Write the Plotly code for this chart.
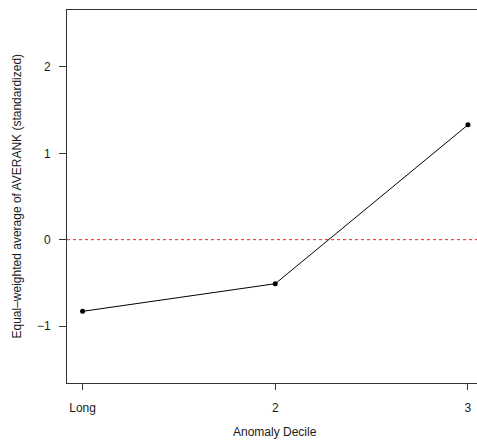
import plotly.graph_objects as go

categories = ["Long", "2", "3"]
x_pos = [1, 2, 3]
values = [-0.83, -0.51, 1.33]
y_ticks = [-1, 0, 1, 2]
y_tick_labels = ["\u22121", "0", "1", "2"]

FONT = "Liberation Sans, Arial, Helvetica, sans-serif"

fig = go.Figure()
fig.add_trace(go.Scatter(
    x=x_pos, y=values, mode="lines+markers",
    line=dict(color="black", width=1),
    marker=dict(color="black", size=5),
    showlegend=False, cliponaxis=False,
))

fig.add_hline(y=0, line=dict(color="#ff2020", width=1, dash="3px,3px"))

fig.update_layout(
    width=477, height=441,
    margin=dict(l=67, r=0, t=10, b=58),
    plot_bgcolor="white", paper_bgcolor="white",
    font=dict(family=FONT, size=12, color="#1a1a1a"),
    xaxis=dict(
        range=[0.919, 3.047], tickvals=x_pos, ticktext=categories,
        showgrid=False, zeroline=False,
        showline=True, linecolor="#333", linewidth=1, mirror=True,
        ticks="outside", ticklen=6, tickcolor="#333",
        ticklabelstandoff=8,
    ),
    yaxis=dict(
        range=[-1.66, 2.66], tickvals=y_ticks, ticktext=y_tick_labels,
        showgrid=False, zeroline=False,
        showline=True, linecolor="#333", linewidth=1, mirror=False,
        ticks="outside", ticklen=7, tickcolor="#333",
        ticklabelstandoff=6,
    ),
    annotations=[
        dict(text="Anomaly Decile", xref="x", yref="paper", x=2, y=0,
             yshift=-49, showarrow=False, yanchor="middle",
             font=dict(family=FONT, size=12, color="#1a1a1a")),
        dict(text="Equal\u2013weighted average of AVERANK (standardized)",
             xref="paper", yref="y", x=0, y=0.5, xshift=-51, textangle=-90,
             showarrow=False, xanchor="center", yanchor="middle",
             font=dict(family=FONT, size=12, color="#1a1a1a")),
    ],
)

fig.write_html(
    "out.html",
    config={"displayModeBar": False},
    post_script="document.body.style.margin='0';document.body.style.overflow='hidden';",
)
